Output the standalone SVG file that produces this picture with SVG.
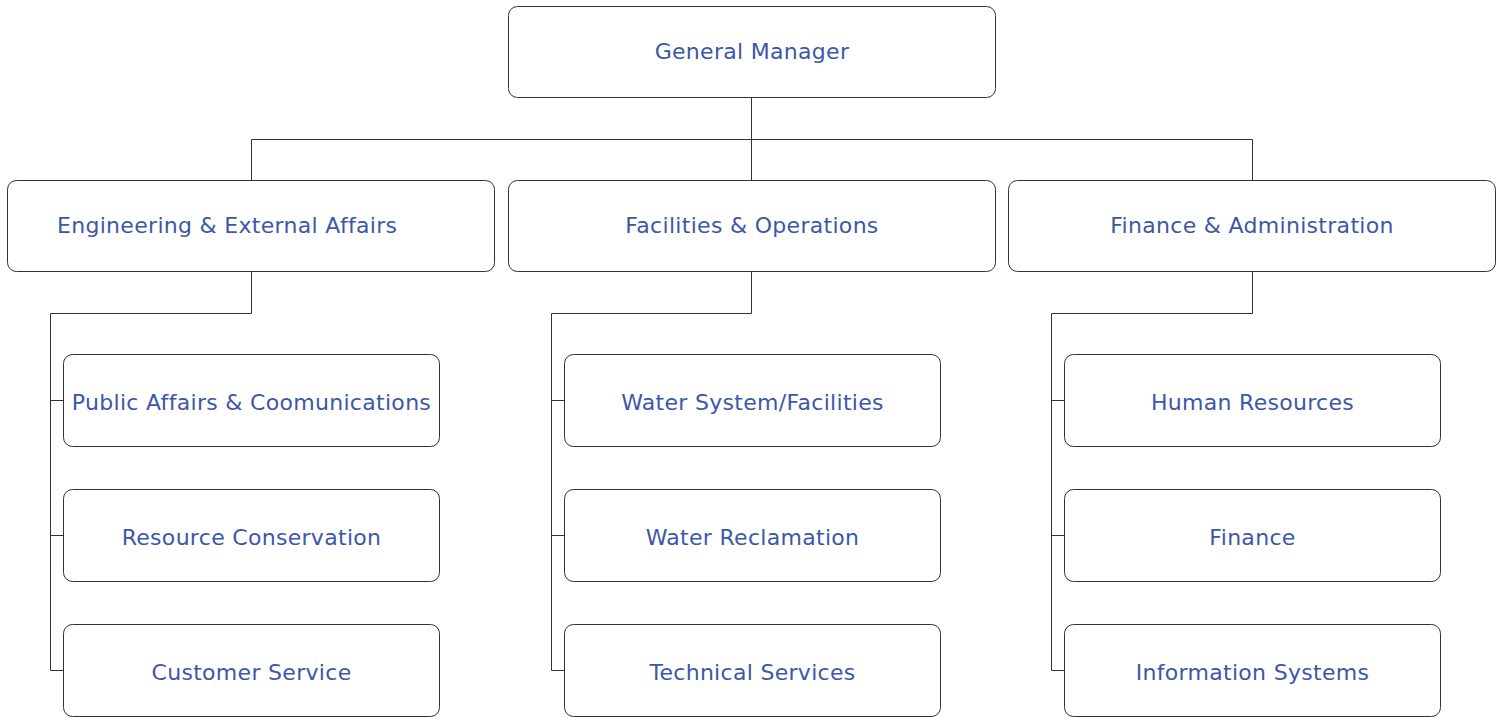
<svg xmlns="http://www.w3.org/2000/svg" width="1503" height="717" viewBox="0 0 1503 717">
<style>
.box{fill:#fff;stroke:#333;stroke-width:1}
.lbl{font-family:"DejaVu Sans",Verdana,sans-serif;font-size:22px;letter-spacing:0.3px;fill:#3d57a8;text-anchor:middle}
.con{fill:none;stroke:#333;stroke-width:1}
</style>
<rect width="1503" height="717" fill="#fff"/>
<g id="connectors">
<path class="con" d="M751.5 98V139.5M251.5 180V139.5H1252.5V180M751.5 139.5V180"/>
<path class="con" d="M251.5 272V313.5H50.5V670.5H63.5M50.5 400.5H63.5M50.5 535.5H63.5"/>
<path class="con" d="M751.5 272V313.5H551.5V670.5H564.5M551.5 400.5H564.5M551.5 535.5H564.5"/>
<path class="con" d="M1252.5 272V313.5H1051.5V670.5H1064.5M1051.5 400.5H1064.5M1051.5 535.5H1064.5"/>
</g>
<g id="gm"><rect class="box" x="508.5" y="6.5" width="487" height="91" rx="9"/><text class="lbl" x="752" y="59">General Manager</text></g>
<g id="eea"><rect class="box" x="7.5" y="180.5" width="487" height="91" rx="9"/><text class="lbl" x="57" y="233" style="text-anchor:start">Engineering &amp; External Affairs</text></g>
<g id="fo"><rect class="box" x="508.5" y="180.5" width="487" height="91" rx="9"/><text class="lbl" x="752" y="233">Facilities &amp; Operations</text></g>
<g id="fa"><rect class="box" x="1008.5" y="180.5" width="487" height="91" rx="9"/><text class="lbl" x="1252" y="233">Finance &amp; Administration</text></g>
<g id="pac"><rect class="box" x="63.5" y="354.5" width="376" height="92" rx="9"/><text class="lbl" x="251.5" y="410">Public Affairs &amp; Coomunications</text></g>
<g id="rc"><rect class="box" x="63.5" y="489.5" width="376" height="92" rx="9"/><text class="lbl" x="251.5" y="545">Resource Conservation</text></g>
<g id="cs"><rect class="box" x="63.5" y="624.5" width="376" height="92" rx="9"/><text class="lbl" x="251.5" y="680">Customer Service</text></g>
<g id="wsf"><rect class="box" x="564.5" y="354.5" width="376" height="92" rx="9"/><text class="lbl" x="752.5" y="410">Water System/Facilities</text></g>
<g id="wr"><rect class="box" x="564.5" y="489.5" width="376" height="92" rx="9"/><text class="lbl" x="752.5" y="545">Water Reclamation</text></g>
<g id="ts"><rect class="box" x="564.5" y="624.5" width="376" height="92" rx="9"/><text class="lbl" x="752.5" y="680">Technical Services</text></g>
<g id="hr"><rect class="box" x="1064.5" y="354.5" width="376" height="92" rx="9"/><text class="lbl" x="1252.5" y="410">Human Resources</text></g>
<g id="fin"><rect class="box" x="1064.5" y="489.5" width="376" height="92" rx="9"/><text class="lbl" x="1252.5" y="545">Finance</text></g>
<g id="is"><rect class="box" x="1064.5" y="624.5" width="376" height="92" rx="9"/><text class="lbl" x="1252.5" y="680">Information Systems</text></g>
</svg>
